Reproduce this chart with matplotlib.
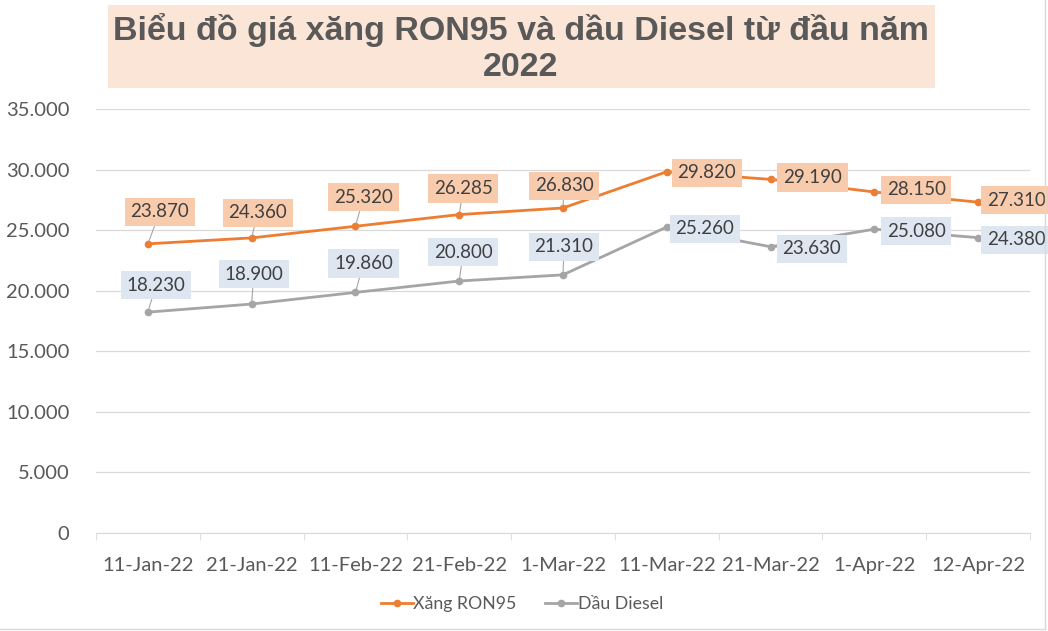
import matplotlib
matplotlib.use("Agg")
import matplotlib.pyplot as plt
from matplotlib.patches import Rectangle
from matplotlib.ticker import FuncFormatter

# data
dates = ["11-Jan-22", "21-Jan-22", "11-Feb-22", "21-Feb-22", "1-Mar-22",
         "11-Mar-22", "21-Mar-22", "1-Apr-22", "12-Apr-22"]
ron95 = [23870, 24360, 25320, 26285, 26830, 29820, 29190, 28150, 27310]
diesel = [18230, 18900, 19860, 20800, 21310, 25260, 23630, 25080, 24380]

# label offsets (pixels, right / up) for each data label
ron95_offsets = [(12, 32), (6, 25), (8, 29), (4, 26), (1, 22),
                 (40, -1), (42, 2), (42, 2), (38, 2)]
diesel_offsets = [(8, 27), (2, 30), (8, 29), (4, 29), (1, 28),
                  (38, -2), (41, -2), (42, -2), (38, -2)]

ORANGE = "#ED7D31"
GRAY = "#A5A5A5"
TEXT = "#595959"

plt.rcParams['font.family'] = ['Lato', 'DejaVu Sans']

W, H = 1048, 631
fig = plt.figure(figsize=(W / 100., H / 100.), dpi=100)
ax = fig.add_axes([96. / W, 1 - 533. / H, (1030. - 96.) / W, (533. - 109.) / H])

x = list(range(len(dates)))
ax.plot(x, ron95, color=ORANGE, lw=2.0, marker="o", ms=4.5, label="Xăng RON95",
        zorder=3)
ax.plot(x, diesel, color=GRAY, lw=2.0, marker="o", ms=4.5, label="Dầu Diesel",
        zorder=3)

def fmt(v, pos=None):
    return "{:,}".format(int(v)).replace(",", ".")

def put_labels(values, offsets, face):
    for xi, v, (dx, dy) in zip(x, values, offsets):
        ax.annotate(fmt(v), (xi, v), xytext=(dx * 0.72, dy * 0.72),
                    textcoords="offset points", ha="center", va="center",
                    fontsize=13.5, color="#404040", annotation_clip=False,
                    bbox=dict(boxstyle="square,pad=0.3", fc=face, ec="none"),
                    arrowprops=dict(arrowstyle="-", color="#A6A6A6", lw=0.8,
                                    shrinkA=0, shrinkB=2),
                    zorder=4)

put_labels(ron95, ron95_offsets, "#F8CBAD")
put_labels(diesel, diesel_offsets, "#DEE6F2")

ax.set_xlim(-0.5, len(dates) - 0.5)
ax.set_ylim(0, 35000)
ax.set_yticks(range(0, 35001, 5000))
ax.yaxis.set_major_formatter(FuncFormatter(fmt))
ax.set_xticks(x)
ax.set_xticklabels(dates)
ax.set_xticks([i + 0.5 for i in range(-1, len(dates))], minor=True)
ax.grid(axis="y", color="#D9D9D9", lw=0.9)
ax.set_axisbelow(True)
for side in ["top", "right", "left"]:
    ax.spines[side].set_visible(False)
ax.spines["bottom"].set_color("#D9D9D9")
ax.tick_params(axis="y", length=0, pad=19, labelsize=14.5, labelcolor=TEXT)
ax.tick_params(axis="x", which="major", length=0, pad=17, labelsize=14.5,
               labelcolor=TEXT)
ax.tick_params(axis="x", which="minor", length=5, color="#D9D9D9")

leg = fig.legend(loc="center", bbox_to_anchor=(522. / W, 1 - 604. / H), ncol=2,
                 frameon=False, fontsize=12.8, handlelength=1.8, handletextpad=0.05,
                 columnspacing=1.6, labelcolor=TEXT)

# title box
fig.patches.append(Rectangle((108. / W, 1 - 88. / H), (935. - 108.) / W,
                             (88. - 5.) / H, transform=fig.transFigure,
                             fc="#FBE5D6", ec="none", zorder=0))
fig.text(521. / W, 1 - 30. / H, "Biểu đồ giá xăng RON95 và dầu Diesel từ đầu năm",
         ha="center", va="center", fontsize=24.5, fontweight="bold",
         color=TEXT, family="Liberation Sans")
fig.text(521. / W, 1 - 68. / H, "2022", ha="center", va="center", fontsize=24.5,
         fontweight="bold", color=TEXT, family="Liberation Sans")

# chart area border (right and bottom visible in the crop)
fig.lines.append(plt.Line2D([1045. / W, 1045. / W], [2. / H, 1], color="#D9D9D9",
                            lw=1, transform=fig.transFigure))
fig.lines.append(plt.Line2D([0, 1045. / W], [2. / H, 2. / H], color="#D9D9D9",
                            lw=1, transform=fig.transFigure))

fig.savefig("out.png", dpi=100)
